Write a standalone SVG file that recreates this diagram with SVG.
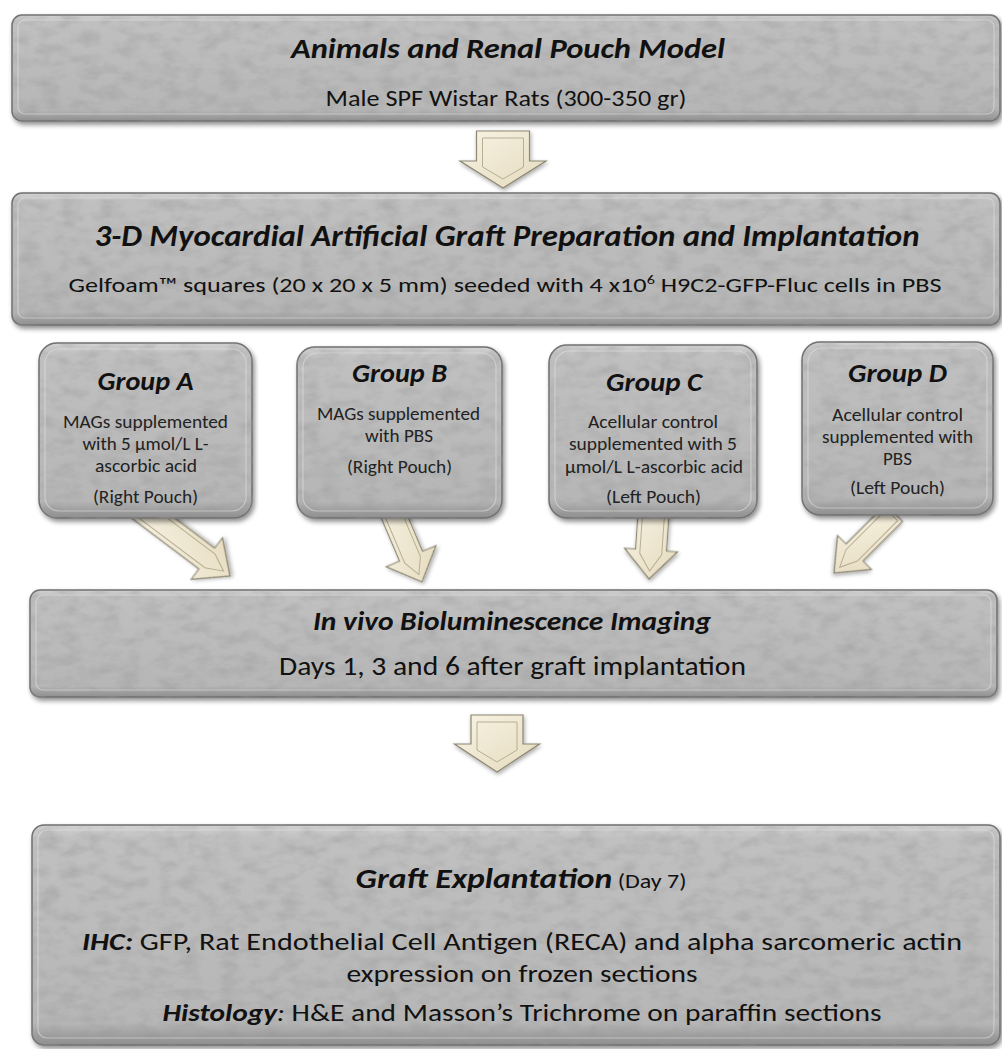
<svg xmlns="http://www.w3.org/2000/svg" width="1002" height="1049" viewBox="0 0 1002 1049">
<defs>
<linearGradient id="gBox" x1="0" y1="0" x2="0" y2="1">
<stop offset="0" stop-color="#d2d2d2"/>
<stop offset="0.06" stop-color="#c0c0c0"/>
<stop offset="0.9" stop-color="#b6b6b6"/>
<stop offset="1" stop-color="#8e8e8e"/>
</linearGradient>
<linearGradient id="gArrow" x1="0" y1="0" x2="1" y2="1">
<stop offset="0" stop-color="#f8f3e4"/>
<stop offset="1" stop-color="#e4dabd"/>
</linearGradient>
<filter id="stone" x="-3%" y="-5%" width="106%" height="115%">
<feGaussianBlur in="SourceAlpha" stdDeviation="2.5" result="b"/>
<feOffset in="b" dx="2" dy="3" result="o"/>
<feComponentTransfer in="o" result="sh"><feFuncA type="linear" slope="0.45"/></feComponentTransfer>
<feTurbulence type="fractalNoise" baseFrequency="0.05 0.09" numOctaves="3" seed="4" result="n"/>
<feColorMatrix in="n" type="matrix" values="0 0 0 0 0.3  0 0 0 0 0.3  0 0 0 0 0.3  0.9 0 0 0 -0.36" result="spots"/>
<feComposite in="spots" in2="SourceGraphic" operator="in" result="tex"/>
<feMerge><feMergeNode in="sh"/><feMergeNode in="SourceGraphic"/><feMergeNode in="tex"/></feMerge>
</filter>
<filter id="ashadow" x="-30%" y="-30%" width="160%" height="160%">
<feGaussianBlur in="SourceAlpha" stdDeviation="2" result="b"/>
<feOffset in="b" dx="1" dy="2" result="o"/>
<feComponentTransfer in="o" result="sh"><feFuncA type="linear" slope="0.35"/></feComponentTransfer>
<feMerge><feMergeNode in="sh"/><feMergeNode in="SourceGraphic"/></feMerge>
</filter>
</defs>
<style>
.box{fill:url(#gBox);stroke:#6f6f6f;stroke-width:1.5;filter:url(#stone)}
.bevel{fill:none;stroke:#e2e2e2;stroke-opacity:0.55;stroke-width:1.2}
.arr{fill:url(#gArrow);stroke:#8c8672;stroke-width:1.2;filter:url(#ashadow)}
.arrin{fill:none;stroke:#b8ae92;stroke-width:1}
text{font-family:Carlito,"Open Sans","Liberation Sans",sans-serif;fill:#111;text-anchor:middle}
.bt{font-weight:bold;font-style:italic}
.gt{font-weight:bold;font-style:italic;font-size:26px}
.gb{font-size:18px;fill:#222}
</style>

<g id="connectors">
<g transform="translate(503,188)">
<polygon class="arr" points="-26.5,-57 26.5,-57 26.5,-27 43,-27 0,0 -43,-27 -26.5,-27"/>
<polygon class="arrin" points="-20.5,-50 20.5,-50 20.5,-21 0,-9 -20.5,-21"/>
</g>
<g transform="translate(230,576) rotate(-53)">
<polygon class="arr" points="-13,-114 13,-114 13,-29 26,-29 0,0 -26,-29 -13,-29"/>
<polygon class="arrin" points="-8.5,-110 8.5,-110 8.5,-25 0,-8 -8.5,-25"/>
</g>
<g transform="translate(422,582) rotate(-23)">
<polygon class="arr" points="-12.5,-83 12.5,-83 12.5,-28 27,-28 0,0 -27,-28 -12.5,-28"/>
<polygon class="arrin" points="-8.5,-80 8.5,-80 8.5,-24 0,-8 -8.5,-24"/>
</g>
<g transform="translate(649,579) rotate(4)">
<polygon class="arr" points="-15.5,-74 15.5,-74 15.5,-29 26.5,-29 0,0 -26.5,-29 -15.5,-29"/>
<polygon class="arrin" points="-11,-70 11,-70 11,-25 0,-8 -11,-25"/>
</g>
<g transform="translate(834,573) rotate(45)">
<polygon class="arr" points="-12,-85 12,-85 12,-29 24,-29 0,0 -24,-29 -12,-29"/>
<polygon class="arrin" points="-8,-82 8,-82 8,-25 0,-8 -8,-25"/>
</g>
<g transform="translate(497,772)">
<polygon class="arr" points="-26,-57 26,-57 26,-28 42.5,-28 0,0 -42.5,-28 -26,-28"/>
<polygon class="arrin" points="-20,-50 20,-50 20,-22 0,-10 -20,-22"/>
</g>
</g>

<g id="node-animals">
<rect class="box" x="12" y="15" width="988" height="106" rx="10"/>
<rect class="bevel" x="18" y="20" width="976" height="94" rx="7"/>
<text class="bt" x="508" y="58" font-size="28" textLength="434" lengthAdjust="spacingAndGlyphs">Animals and Renal Pouch Model</text>
<text x="506" y="106" font-size="22" textLength="361" lengthAdjust="spacingAndGlyphs">Male SPF Wistar Rats (300-350 gr)</text>
</g>

<g id="node-graft">
<rect class="box" x="12" y="193" width="988" height="132" rx="10"/>
<rect class="bevel" x="18" y="198" width="976" height="120" rx="7"/>
<text class="bt" x="507" y="246" font-size="30" textLength="825" lengthAdjust="spacingAndGlyphs">3-D Myocardial Artificial Graft Preparation and Implantation</text>
<text x="505" y="292" font-size="21" textLength="873" lengthAdjust="spacingAndGlyphs">Gelfoam™ squares (20 x 20 x 5 mm) seeded with 4 x10<tspan font-size="13" dy="-8">6</tspan><tspan dy="8"> H9C2-GFP-Fluc cells in PBS</tspan></text>
</g>

<g id="node-groupA">
<rect class="box" x="39" y="343" width="213" height="175" rx="18"/>
<rect class="bevel" x="45" y="349" width="201" height="162" rx="14"/>
<text class="gt" x="145.5" y="390" textLength="96" lengthAdjust="spacingAndGlyphs">Group A</text>
<text class="gb" x="145.5" y="428" textLength="165" lengthAdjust="spacingAndGlyphs">MAGs supplemented</text>
<text class="gb" x="145.5" y="450" textLength="126" lengthAdjust="spacingAndGlyphs">with 5 µmol/L L-</text>
<text class="gb" x="146" y="472" textLength="102" lengthAdjust="spacingAndGlyphs">ascorbic acid</text>
<text class="gb" x="145.5" y="503" textLength="105" lengthAdjust="spacingAndGlyphs">(Right Pouch)</text>
</g>

<g id="node-groupB">
<rect class="box" x="297" y="347" width="205" height="171" rx="18"/>
<rect class="bevel" x="303" y="353" width="193" height="158" rx="14"/>
<text class="gt" x="399.5" y="382" textLength="95" lengthAdjust="spacingAndGlyphs">Group B</text>
<text class="gb" x="398.5" y="420" textLength="163" lengthAdjust="spacingAndGlyphs">MAGs supplemented</text>
<text class="gb" x="399" y="442" textLength="68" lengthAdjust="spacingAndGlyphs">with PBS</text>
<text class="gb" x="399.5" y="473" textLength="105" lengthAdjust="spacingAndGlyphs">(Right Pouch)</text>
</g>

<g id="node-groupC">
<rect class="box" x="549" y="345" width="208" height="173" rx="18"/>
<rect class="bevel" x="555" y="351" width="196" height="160" rx="14"/>
<text class="gt" x="654" y="391" textLength="96" lengthAdjust="spacingAndGlyphs">Group C</text>
<text class="gb" x="653" y="428" textLength="130" lengthAdjust="spacingAndGlyphs">Acellular control</text>
<text class="gb" x="653" y="450" textLength="168" lengthAdjust="spacingAndGlyphs">supplemented with 5</text>
<text class="gb" x="654" y="473" textLength="178" lengthAdjust="spacingAndGlyphs">µmol/L L-ascorbic acid</text>
<text class="gb" x="653.5" y="503" textLength="95" lengthAdjust="spacingAndGlyphs">(Left Pouch)</text>
</g>

<g id="node-groupD">
<rect class="box" x="802" y="342" width="191" height="173" rx="18"/>
<rect class="bevel" x="808" y="348" width="179" height="160" rx="14"/>
<text class="gt" x="897.5" y="382" textLength="99" lengthAdjust="spacingAndGlyphs">Group D</text>
<text class="gb" x="897.5" y="421" textLength="131" lengthAdjust="spacingAndGlyphs">Acellular control</text>
<text class="gb" x="897.5" y="443" textLength="151" lengthAdjust="spacingAndGlyphs">supplemented with</text>
<text class="gb" x="897.5" y="465" textLength="29" lengthAdjust="spacingAndGlyphs">PBS</text>
<text class="gb" x="897.5" y="494" textLength="95" lengthAdjust="spacingAndGlyphs">(Left Pouch)</text>
</g>

<g id="node-imaging">
<rect class="box" x="30" y="590" width="967" height="107" rx="10"/>
<rect class="bevel" x="36" y="595" width="955" height="95" rx="7"/>
<text class="bt" x="512" y="630" font-size="26" textLength="398" lengthAdjust="spacingAndGlyphs">In vivo Bioluminescence Imaging</text>
<text x="512.5" y="675" font-size="27" textLength="467" lengthAdjust="spacingAndGlyphs">Days 1, 3 and 6 after graft implantation</text>
</g>

<g id="node-explant">
<rect class="box" x="32" y="825" width="968" height="220" rx="12"/>
<rect class="bevel" x="38" y="830" width="956" height="208" rx="9"/>
<text x="521" y="888" font-size="28" textLength="331" lengthAdjust="spacingAndGlyphs"><tspan class="bt">Graft Explantation</tspan><tspan font-size="20"> (Day 7)</tspan></text>
<text x="522" y="950" font-size="24" textLength="880" lengthAdjust="spacingAndGlyphs"><tspan class="bt">IHC:</tspan> GFP, Rat Endothelial Cell Antigen (RECA) and alpha sarcomeric actin</text>
<text x="522" y="982" font-size="24" textLength="351" lengthAdjust="spacingAndGlyphs">expression on frozen sections</text>
<text x="522" y="1021" font-size="24" textLength="719" lengthAdjust="spacingAndGlyphs"><tspan class="bt">Histology</tspan><tspan font-style="italic">:</tspan> H&amp;E and Masson’s Trichrome on paraffin sections</text>
</g>
</svg>
